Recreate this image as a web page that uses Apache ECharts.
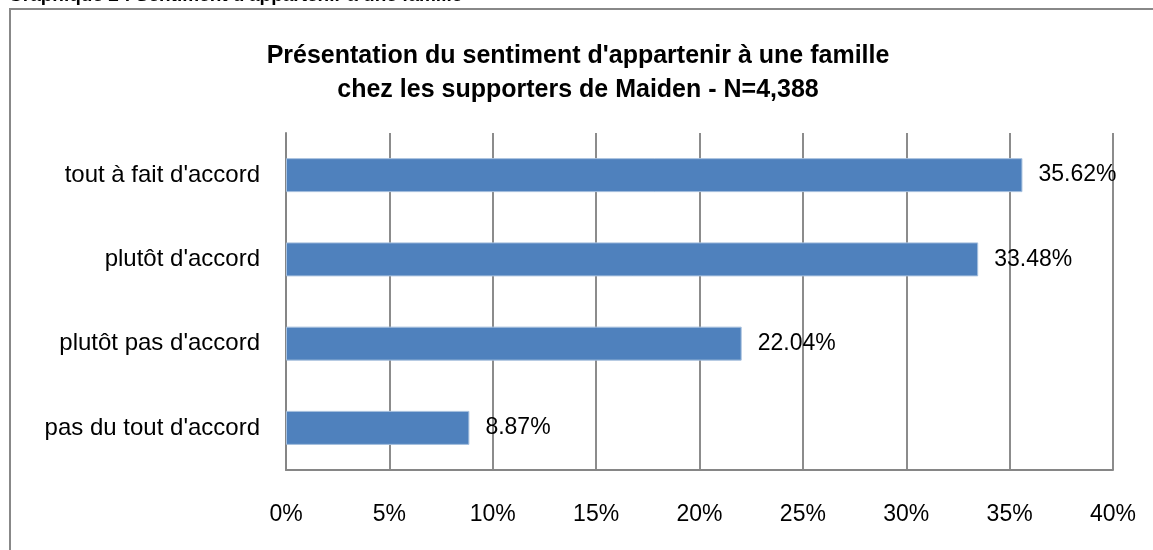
<!DOCTYPE html>
<html>
<head>
<meta charset="utf-8">
<script src="https://cdn.jsdelivr.net/npm/echarts@6/dist/echarts.min.js"></script>
<style>
  html, body { margin: 0; padding: 0; background: #fff; }
  #main { width: 1153px; height: 550px; }
</style>
</head>
<body>
<div id="main"></div>
<script>
var categories = ["tout à fait d'accord", "plutôt d'accord", "plutôt pas d'accord", "pas du tout d'accord"];
var values = [35.62, 33.48, 22.04, 8.87];
var xTicks = { min: 0, max: 40, interval: 5 };

window.onload = function () {
  var chartDom = document.getElementById("main");
  var myChart = echarts.init(chartDom);
  var font = "Liberation Sans";
  var option;

  option = {
    animation: false,
    textStyle: { fontFamily: font },
    title: {
      text: "Présentation du sentiment d'appartenir à une famille\nchez les supporters de Maiden - N=4,388",
      left: 573,
      top: 34,
      textAlign: "center",
      textStyle: {
        fontFamily: font,
        fontSize: 25,
        fontWeight: "bold",
        color: "#000",
        lineHeight: 34,
      },
    },
    graphic: [
      {
        type: "rect",
        shape: { x: 10, y: 9, width: 1300, height: 700 },
        style: { fill: "none", stroke: "#888", lineWidth: 2 },
        silent: true,
      },
      {
        type: "text",
        x: 8,
        y: 5,
        style: {
          text: "Graphique 2 : Sentiment d'appartenir à une famille",
          font: "bold 19px " + font,
          fill: "#000",
          verticalAlign: "bottom",
        },
      },
    ],
    grid: {
      left: 286,
      right: 40,
      top: 133,
      bottom: 80,
      outerBoundsMode: "none",
    },
    xAxis: {
      type: "value",
      min: xTicks.min,
      max: xTicks.max,
      interval: xTicks.interval,
      axisLine: { show: true, lineStyle: { color: "#868686", width: 2 } },
      axisTick: { show: false },
      axisLabel: {
        formatter: "{value}%",
        fontSize: 23,
        color: "#000",
        margin: 33,
      },
      splitLine: { show: true, lineStyle: { color: "#8c8c8c", width: 2 } },
    },
    yAxis: {
      type: "category",
      data: categories,
      inverse: true,
      axisLine: { show: true, lineStyle: { color: "#868686", width: 2 } },
      axisTick: { show: false },
      axisLabel: { fontSize: 24, color: "#000", margin: 26 },
    },
    series: [
      {
        type: "bar",
        data: values,
        barWidth: 34,
        itemStyle: { color: "#4F81BD", borderColor: "#a7c0de", borderWidth: 1 },
        label: {
          show: true,
          position: "right",
          distance: 16,
          fontSize: 23,
          color: "#000",
          formatter: function (p) { return p.value.toFixed(2) + "%"; },
        },
      },
    ],
  };

  option && myChart.setOption(option);
};
</script>
</body>
</html>
